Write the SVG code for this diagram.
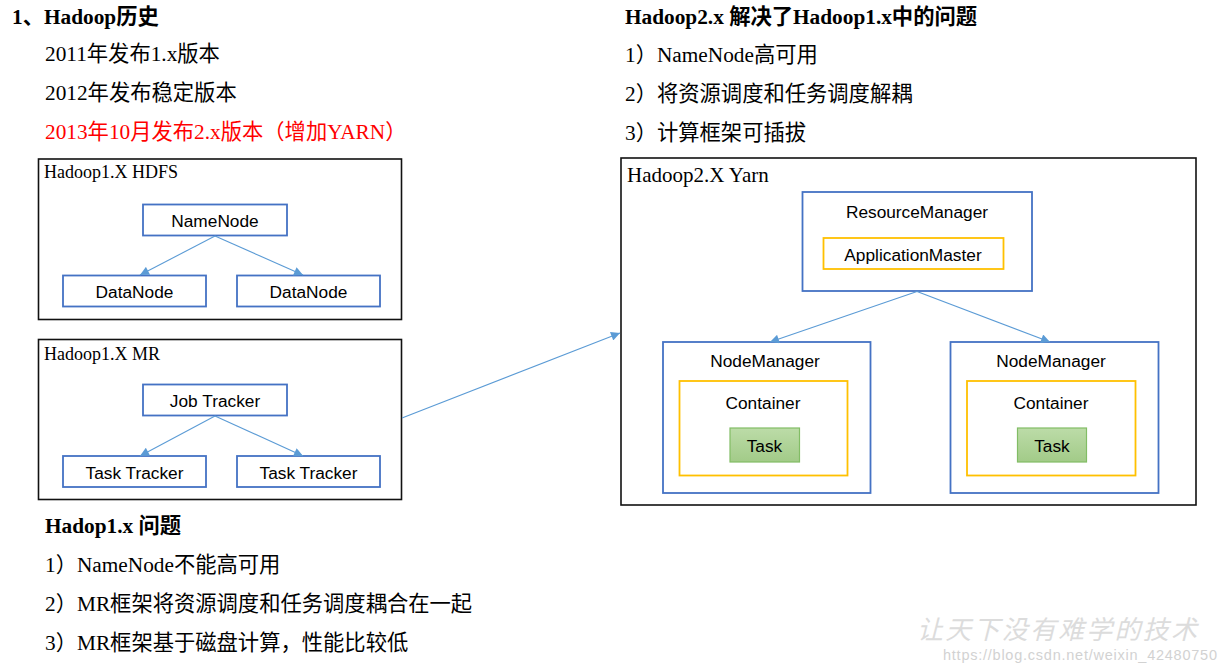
<svg xmlns="http://www.w3.org/2000/svg" width="1225" height="672" viewBox="0 0 1225 672">
<defs>
<style>
.t{font-family:"Liberation Serif","Noto Sans CJK SC",serif;font-size:21.3px;fill:#000}
.b{font-weight:bold}
.lbl{font-family:"Liberation Serif","Noto Sans CJK SC",serif;fill:#000}
.n{font-family:"Liberation Sans",Arial,sans-serif;font-size:17.3px;fill:#000;text-anchor:middle}
.frame{fill:#fff;stroke:#111;stroke-width:1.6}
.bx{fill:#fff;stroke:#4472C4;stroke-width:1.8}
.yx{fill:#fff;stroke:#FFC000;stroke-width:1.8}
.task{fill:url(#g);stroke:#82BD65;stroke-width:1.2}
.c{stroke:#5B9BD5;stroke-width:1.1;fill:none;marker-end:url(#ah)}
</style>
<linearGradient id="g" x1="0" y1="0" x2="0" y2="1"><stop offset="0" stop-color="#BCDCA8"/><stop offset="1" stop-color="#A2CB88"/></linearGradient>
<marker id="ah" viewBox="0 0 10 10" refX="10" refY="5" markerWidth="11" markerHeight="9" markerUnits="userSpaceOnUse" orient="auto"><path d="M0,0 L10,5 L0,10 Z" fill="#5B9BD5"/></marker>
</defs>
<rect width="1225" height="672" fill="#fff"/>

<g id="text-left-top">
<text class="t b" x="12" y="24">1、Hadoop历史</text>
<text class="t" x="45" y="61">2011年发布1.x版本</text>
<text class="t" x="45" y="100">2012年发布稳定版本</text>
<text class="t" x="45" y="139" style="fill:#FF0000">2013年10月发布2.x版本（增加YARN）</text>
</g>
<g id="text-right-top">
<text class="t b" x="625" y="24">Hadoop2.x 解决了Hadoop1.x中的问题</text>
<text class="t" x="625" y="62">1）NameNode高可用</text>
<text class="t" x="625" y="101">2）将资源调度和任务调度解耦</text>
<text class="t" x="625" y="140">3）计算框架可插拔</text>
</g>
<g id="text-left-bottom">
<text class="t b" x="45" y="533">Hadop1.x 问题</text>
<text class="t" x="45" y="572">1）NameNode不能高可用</text>
<text class="t" x="45" y="611">2）MR框架将资源调度和任务调度耦合在一起</text>
<text class="t" x="45" y="650">3）MR框架基于磁盘计算，性能比较低</text>
</g>

<g id="hdfs">
<rect class="frame" x="38.5" y="159" width="363" height="160.5"/>
<text class="lbl" x="44" y="178" font-size="18">Hadoop1.X HDFS</text>
</g>
<g id="namenode"><rect class="bx" x="143" y="204.5" width="144" height="31"/><text class="n" x="215" y="227">NameNode</text></g>
<g id="datanode1"><rect class="bx" x="63" y="275.5" width="143" height="31"/><text class="n" x="134.5" y="298">DataNode</text></g>
<g id="datanode2"><rect class="bx" x="237" y="275.5" width="143" height="31"/><text class="n" x="308.5" y="298">DataNode</text></g>

<g id="mr">
<rect class="frame" x="38.5" y="339.5" width="363" height="160"/>
<text class="lbl" x="44" y="360" font-size="18">Hadoop1.X MR</text>
</g>
<g id="jobtracker"><rect class="bx" x="143" y="384.5" width="144" height="31"/><text class="n" x="215" y="407">Job Tracker</text></g>
<g id="tasktracker1"><rect class="bx" x="63" y="456" width="143" height="31"/><text class="n" x="134.5" y="478.5">Task Tracker</text></g>
<g id="tasktracker2"><rect class="bx" x="237" y="456" width="143" height="31"/><text class="n" x="308.5" y="478.5">Task Tracker</text></g>

<g id="yarn">
<rect class="frame" x="621" y="158" width="575" height="347"/>
<text class="lbl" x="627" y="182" font-size="21">Hadoop2.X Yarn</text>
</g>
<g id="resourcemanager">
<rect class="bx" x="802.5" y="192" width="229.5" height="99"/>
<text class="n" x="917" y="217.5">ResourceManager</text>
</g>
<g id="applicationmaster"><rect class="yx" x="823.5" y="238" width="180" height="31"/><text class="n" x="913" y="261">ApplicationMaster</text></g>
<g id="nodemanager1">
<rect class="bx" x="663" y="342" width="207.5" height="151"/>
<text class="n" x="765" y="367">NodeManager</text>
</g>
<g id="container1"><rect class="yx" x="679.5" y="381" width="168" height="94.5"/><text class="n" x="763" y="409">Container</text></g>
<g id="task1"><rect class="task" x="730" y="428" width="69.5" height="34"/><text class="n" x="764.5" y="452">Task</text></g>
<g id="nodemanager2">
<rect class="bx" x="950.5" y="342" width="208" height="151"/>
<text class="n" x="1051" y="367">NodeManager</text>
</g>
<g id="container2"><rect class="yx" x="967" y="381" width="168.5" height="94.5"/><text class="n" x="1051" y="409">Container</text></g>
<g id="task2"><rect class="task" x="1017.5" y="428" width="69" height="34"/><text class="n" x="1052" y="452">Task</text></g>

<g id="connectors">
<line class="c" x1="215" y1="236" x2="140" y2="275"/>
<line class="c" x1="215" y1="236" x2="303" y2="275"/>
<line class="c" x1="215" y1="416" x2="140" y2="456"/>
<line class="c" x1="215" y1="416" x2="303" y2="456"/>
<line class="c" x1="917" y1="291.5" x2="770" y2="342"/>
<line class="c" x1="917" y1="291.5" x2="1050" y2="342"/>
<line class="c" x1="402" y1="418" x2="620" y2="333"/>
</g>

<g id="watermark">
<text x="917" y="639" font-family="'Noto Sans CJK SC',sans-serif" font-size="26" fill="#DCDCDC" font-style="italic" textLength="280">让天下没有难学的技术</text>
<text x="943" y="660" font-family="'Liberation Sans',Arial,sans-serif" font-size="14.5" fill="#D2D2D2" textLength="274">https://blog.csdn.net/weixin_42480750</text>
</g>
</svg>
